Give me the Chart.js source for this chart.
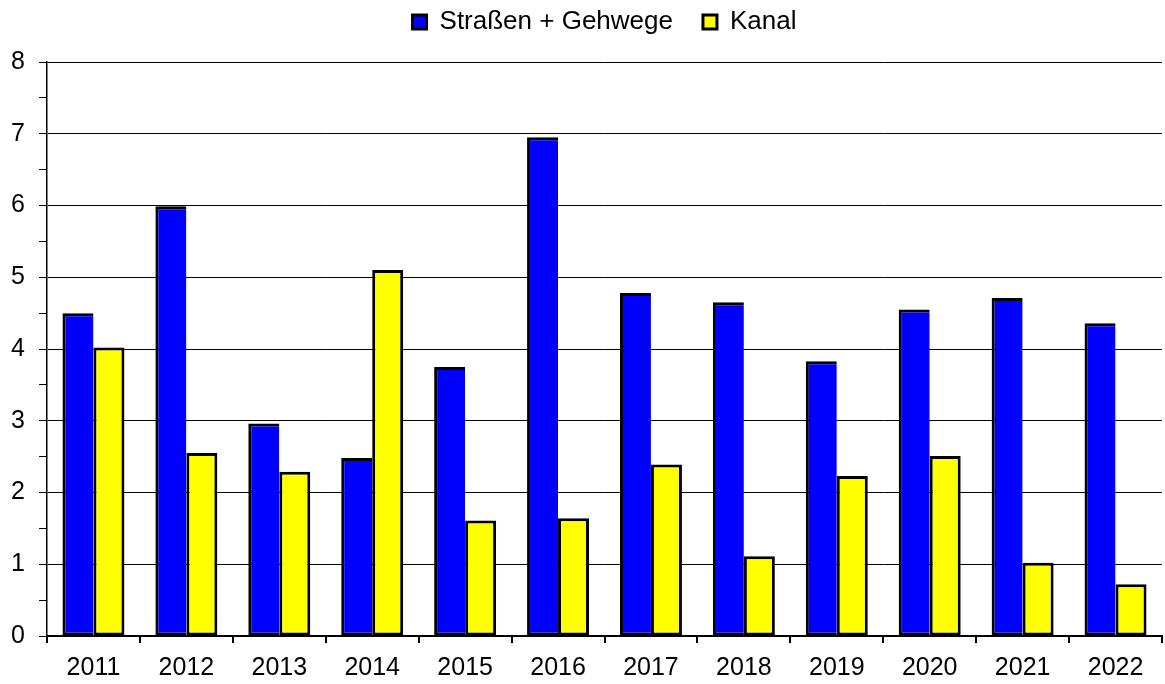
<!DOCTYPE html>
<html>
<head>
<meta charset="utf-8">
<script src="https://cdn.jsdelivr.net/npm/chart.js@4/dist/chart.umd.min.js"></script>
<style>
  html, body { margin: 0; padding: 0; background: #fff; }
  #wrap { width: 1165px; height: 684px; }
</style>
</head>
<body>
<div id="wrap"><canvas id="chart" width="1165" height="684"></canvas></div>
<script>
// years on the x axis
const years = ['2011', '2012', '2013', '2014', '2015', '2016', '2017', '2018', '2019', '2020', '2021', '2022'];

// Straßen + Gehwege
const strassen = [4.5, 5.99, 2.96, 2.48, 3.75, 6.95, 4.78, 4.65, 3.83, 4.55, 4.71, 4.36];

// Kanal
const kanal = [4.02, 2.55, 2.29, 5.1, 1.61, 1.64, 2.39, 1.11, 2.23, 2.51, 1.02, 0.72];

const seriesNames = ['Straßen + Gehwege', 'Kanal'];
const yMin = 0, yMax = 8;

const FONT = "'Liberation Sans', Arial, sans-serif";

// push the plot area down a bit below the legend
const legendSpacer = {
  id: 'legendSpacer',
  beforeInit(chart) {
    if (!chart.legend) return;
    const origFit = chart.legend.fit;
    chart.legend.fit = function () {
      origFit.bind(chart.legend)();
      this.height += 17;
    };
  }
};

const ctx = document.getElementById('chart').getContext('2d');
new Chart(ctx, {
  type: 'bar',
  data: {
    labels: years,
    datasets: [
      {
        label: seriesNames[0],
        data: strassen,
        backgroundColor: '#0000ff',
        borderColor: '#000',
        borderWidth: 3,
        borderSkipped: 'right'
      },
      {
        label: seriesNames[1],
        data: kanal,
        backgroundColor: '#ffff00',
        borderColor: '#000',
        borderWidth: 3,
        borderSkipped: false
      }
    ]
  },
  options: {
    responsive: false,
    animation: false,
    devicePixelRatio: 1,
    layout: { padding: { top: -21, right: 3, bottom: 0, left: 0 } },
    datasets: {
      bar: { categoryPercentage: 0.667, barPercentage: 1.0 }
    },
    plugins: {
      tooltip: { enabled: false },
      legend: {
        position: 'top',
        fullSize: false,
        labels: {
          color: '#000',
          font: { family: FONT, size: 26 },
          boxWidth: 14,
          boxHeight: 14,
          padding: 30
        }
      }
    },
    scales: {
      x: {
        grid: {
          offset: true,
          drawOnChartArea: false,
          drawTicks: true,
          tickLength: 7,
          tickColor: '#000',
          lineWidth: 2
        },
        border: { color: '#000', width: 2 },
        ticks: {
          color: '#000',
          font: { family: FONT, size: 25 },
          padding: 10,
          maxRotation: 0,
          autoSkip: false
        },
        afterFit(scale) { scale.height = 48; }
      },
      y: {
        min: yMin,
        max: yMax,
        grid: {
          color: c => (c.tick && c.tick.value % 1 === 0) ? '#000' : 'rgba(0,0,0,0)',
          tickColor: '#000',
          tickLength: 8,
          lineWidth: 1
        },
        border: { color: '#000', width: 1.5 },
        ticks: {
          stepSize: 0.5,
          color: '#000',
          font: { family: FONT, size: 25 },
          padding: 14,
          callback: v => (v % 1 === 0 ? v : '')
        },
        afterFit(scale) { scale.width = 47; }
      }
    }
  },
  plugins: [legendSpacer]
});
</script>
</body>
</html>
